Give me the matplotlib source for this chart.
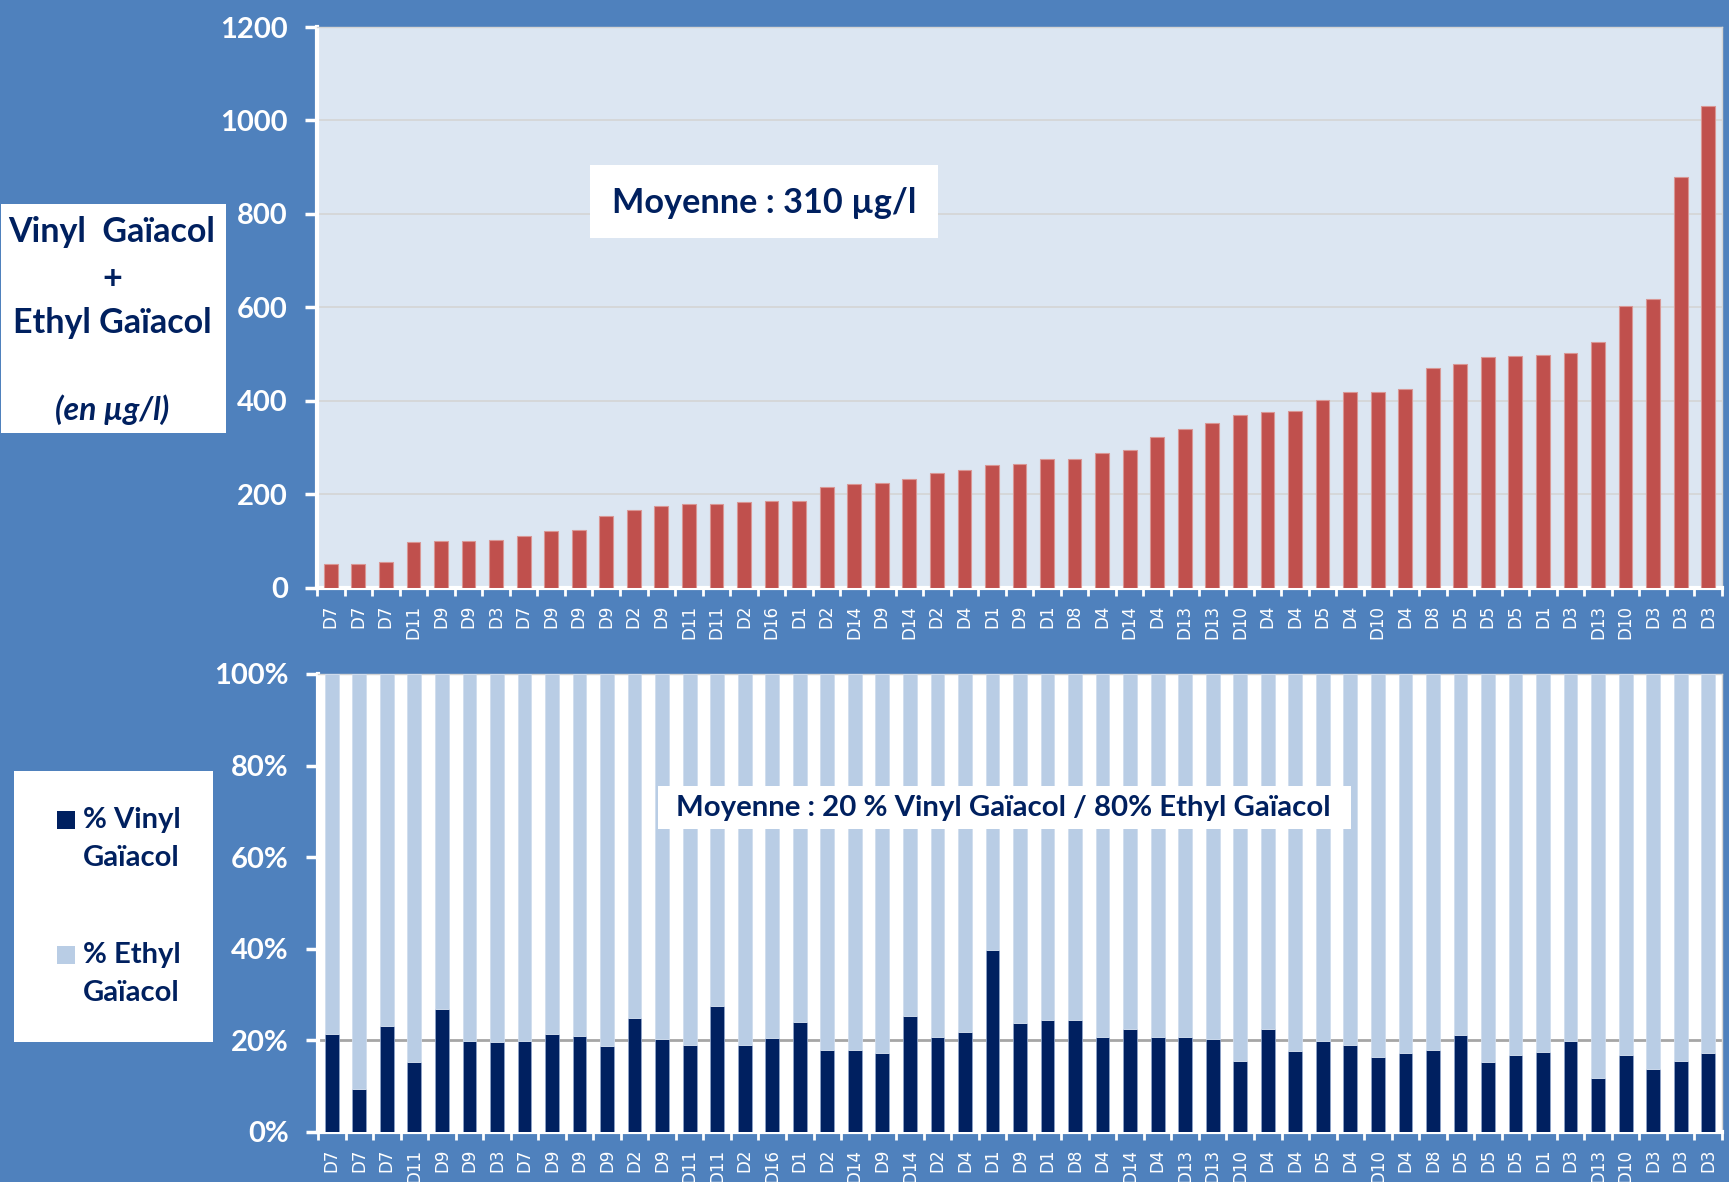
import matplotlib
matplotlib.use("Agg")
import matplotlib.pyplot as plt
from matplotlib.patches import Rectangle
from matplotlib.ticker import FixedLocator, FuncFormatter
import numpy as np

# Sample identifiers (cellar / domain codes), sorted by total concentration
labels = ["D7", "D7", "D7", "D11", "D9", "D9", "D3", "D7", "D9", "D9",
          "D9", "D2", "D9", "D11", "D11", "D2", "D16", "D1", "D2", "D14",
          "D9", "D14", "D2", "D4", "D1", "D9", "D1", "D8", "D4", "D14",
          "D4", "D13", "D13", "D10", "D4", "D4", "D5", "D4", "D10", "D4",
          "D8", "D5", "D5", "D5", "D1", "D3", "D13", "D10", "D3", "D3", "D3"]

# Vinyl gaiacol + ethyl gaiacol (µg/l)
totals = [52, 52, 56, 99, 101, 101, 102, 111, 121, 124,
          155, 166, 176, 179, 179, 184, 186, 187, 217, 223,
          224, 234, 246, 253, 263, 265, 276, 276, 288, 295,
          324, 340, 352, 371, 377, 379, 402, 419, 420, 425,
          471, 480, 495, 496, 498, 502, 526, 604, 618, 879, 1030]

# Share of each compound (%)
vinyl_pct = [21.5, 9.4, 23.2, 15.2, 26.8, 19.8, 19.6, 19.8, 21.5, 21.0,
             18.8, 24.9, 20.4, 19.0, 27.5, 19.0, 20.5, 24.0, 18.0, 17.9,
             17.3, 25.3, 20.7, 21.8, 39.7, 23.8, 24.5, 24.5, 20.7, 22.5,
             20.7, 20.8, 20.4, 15.5, 22.5, 17.6, 19.8, 19.0, 16.4, 17.3,
             17.9, 21.1, 15.2, 16.9, 17.4, 19.8, 11.7, 16.9, 13.7, 15.5, 17.2]
ethyl_pct = [78.5, 90.6, 76.8, 84.8, 73.2, 80.2, 80.4, 80.2, 78.5, 79.0,
             81.2, 75.1, 79.6, 81.0, 72.5, 81.0, 79.5, 76.0, 82.0, 82.1,
             82.7, 74.7, 79.3, 78.2, 60.3, 76.2, 75.5, 75.5, 79.3, 77.5,
             79.3, 79.2, 79.6, 84.5, 77.5, 82.4, 80.2, 81.0, 83.6, 82.7,
             82.1, 78.9, 84.8, 83.1, 82.6, 80.2, 88.3, 83.1, 86.3, 84.5, 82.8]

mean_total_label = "Moyenne : 310 µg/l"
mean_share_label = "Moyenne : 20 % Vinyl Gaïacol / 80% Ethyl Gaïacol"
mean_vinyl = 20

BG = "#4F81BD"
PLOT_BG = "#DCE6F2"
RED = "#C0504D"
NAVY = "#002060"
LIGHT = "#B9CDE5"
TXT = "#00205F"
FONT = "Lato"

W, H = 1729, 1182
fig = plt.figure(figsize=(W / 100, H / 100), dpi=100, facecolor=BG)


def fx(px):
    return px / W


def fy(py):
    return 1 - py / H


x = np.arange(len(labels))

# ---------- top: total concentration ----------
ax1 = fig.add_axes([fx(317), fy(588), fx(1722) - fx(317), fy(27) - fy(588)])
ax1.set_facecolor(PLOT_BG)
ax1.bar(x, totals, width=0.5, color=RED, edgecolor="#D99694", linewidth=0.8, zorder=3)
ax1.set_xlim(-0.5, len(labels) - 0.5)
ax1.set_ylim(0, 1200)
ax1.set_yticks(range(0, 1201, 200))
ax1.grid(axis="y", color="#D4D4D4", linewidth=1.2, zorder=0)
ax1.set_axisbelow(True)

# ---------- bottom: composition ----------
ax2 = fig.add_axes([fx(318), fy(1132), fx(1722) - fx(318), fy(674) - fy(1132)])
ax2.set_facecolor("white")
ax2.bar(x, vinyl_pct, width=0.5, color=NAVY, edgecolor="#8EA3C8", linewidth=0.6, zorder=3,
        label="% Vinyl\nGaïacol")
ax2.bar(x, ethyl_pct, bottom=vinyl_pct, width=0.5, color=LIGHT, edgecolor="#D0DDEE",
        linewidth=0.6, zorder=3, label="% Ethyl\nGaïacol")
ax2.axhline(mean_vinyl, color="#A6A6A6", linewidth=2, zorder=1)
ax2.axhline(100, color="#A6A6A6", linewidth=1.2, zorder=1)
ax2.set_xlim(-0.5, len(labels) - 0.5)
ax2.set_ylim(0, 100)
ax2.set_yticks(range(0, 101, 20))
ax2.yaxis.set_major_formatter(FuncFormatter(lambda v, p: f"{int(v)}%"))

for ax in (ax1, ax2):
    ax.set_xticks(x)
    ax.set_xticklabels(labels, rotation=90, color="white", fontsize=12,
                       family="DejaVu Sans", va="top", ha="center")
    ax.xaxis.set_minor_locator(FixedLocator(np.arange(-0.5, len(labels), 1.0)))
    ax.tick_params(axis="x", which="major", length=0, pad=12)
    ax.tick_params(axis="x", which="minor", length=6, width=2, color="white")
    ax.tick_params(axis="y", length=9, width=2.5, color="white", pad=12,
                   labelcolor="white", labelsize=21)
    for t in ax.get_yticklabels():
        t.set_fontfamily(FONT)
        t.set_fontweight("bold")
    for s in ("left", "bottom"):
        ax.spines[s].set_color("white")
        ax.spines[s].set_linewidth(3)
    for s in ("top", "right"):
        ax.spines[s].set_color("#D4D4D4")
        ax.spines[s].set_linewidth(1)

# ---------- annotation boxes ----------
def white_box(x0, y0, x1, y1):
    fig.add_artist(Rectangle((fx(x0), fy(y1)), fx(x1) - fx(x0), fy(y0) - fy(y1),
                             transform=fig.transFigure, facecolor="white",
                             edgecolor="none", zorder=5))


# y-axis title box
white_box(1, 204, 226, 433)
tk = dict(color=TXT, family=FONT, fontweight="bold", ha="center", va="center", zorder=6)
fig.text(fx(112), fy(232), "Vinyl  Gaïacol", fontsize=24.5, **tk)
fig.text(fx(112), fy(279), "+", fontsize=24.5, **tk)
fig.text(fx(112), fy(323), "Ethyl Gaïacol", fontsize=24.5, **tk)
fig.text(fx(112), fy(410), "(en µg/l)", fontsize=23, style="italic", **tk)

# mean total box
white_box(590, 165, 938, 238)
fig.text(fx(764), fy(203), mean_total_label, fontsize=24.7, **tk)

# mean share box
white_box(658, 786, 1351, 829)
fig.text(fx(1003), fy(808), mean_share_label, fontsize=21.2, **tk)

# legend box
white_box(14, 771, 213, 1042)
handles, leg_labels = ax2.get_legend_handles_labels()
y_rows = [(820, 858), (955, 993)]
for h, lab, (ya, yb) in zip(handles, leg_labels, y_rows):
    fig.add_artist(Rectangle((fx(57), fy(ya + 9)), fx(18), fy(0) - fy(18),
                             transform=fig.transFigure, facecolor=h.patches[0].get_facecolor(),
                             edgecolor="none", zorder=6))
    first, second = lab.split("\n")
    fig.text(fx(83), fy(ya), first, fontsize=21, color=TXT, family=FONT,
             fontweight="bold", ha="left", va="center", zorder=6)
    fig.text(fx(83), fy(yb), second, fontsize=21, color=TXT, family=FONT,
             fontweight="bold", ha="left", va="center", zorder=6)

fig.savefig("out.png", dpi=100, facecolor=BG)
